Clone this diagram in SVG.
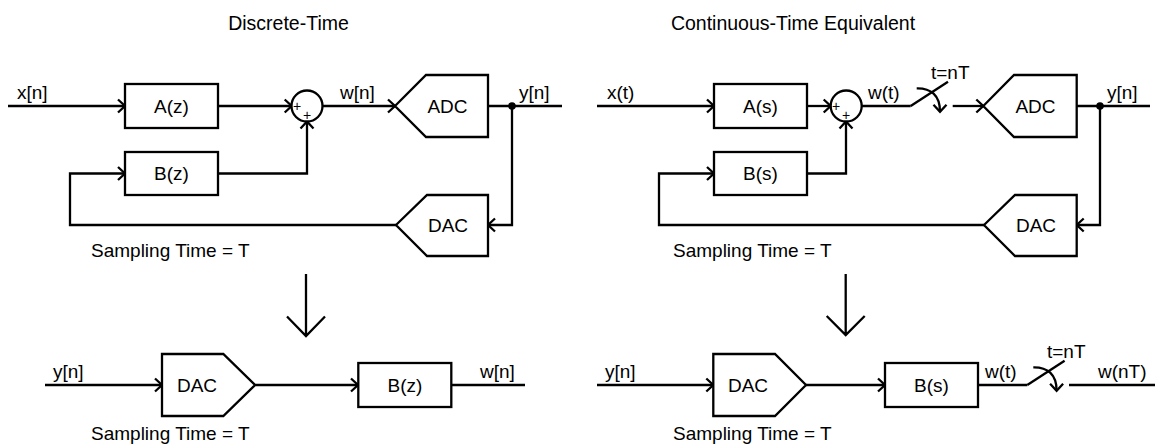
<svg xmlns="http://www.w3.org/2000/svg" width="1156" height="447" viewBox="0 0 1156 447">
<style>
.ln{fill:none;stroke:#000;stroke-width:2.3;stroke-linejoin:miter}
.bx{fill:#fff;stroke:#000;stroke-width:2.3}
.t{font-family:"Liberation Sans",Arial,sans-serif;font-size:19px;fill:#000}
.tt{font-family:"Liberation Sans",Arial,sans-serif;font-size:19.5px;fill:#000;text-anchor:middle}
.c{text-anchor:middle}
.p{font-family:"Liberation Sans",Arial,sans-serif;font-size:14px;fill:#000;text-anchor:middle}
</style>
<defs>
<marker id="arr" markerUnits="userSpaceOnUse" markerWidth="20" markerHeight="20" viewBox="-10 -10 20 20" refX="0" refY="0" orient="auto" overflow="visible">
<path d="M-7,-6.5 L0,0 L-7,6.5" fill="none" stroke="#000" stroke-width="2.3"/>
</marker>
<g id="sw">
<path class="ln" d="M0,0 L37.3,-24.3"/>
<path class="ln" d="M6,-17.7 C20,-18 29.3,-11 29.3,5.7" marker-end="url(#arr)"/>
</g>
</defs>

<text class="tt" x="288.5" y="30">Discrete-Time</text>
<text class="tt" x="793" y="30">Continuous-Time Equivalent</text>

<g id="connectors">
<path class="ln" d="M8,106 H125" marker-end="url(#arr)"/>
<path class="ln" d="M218,106 H291.7" marker-end="url(#arr)"/>
<path class="ln" d="M218,173.5 H307 V121.5" marker-end="url(#arr)"/>
<path class="ln" d="M322.5,106 H395" marker-end="url(#arr)"/>
<path class="ln" d="M488,106 H562"/>
<path class="ln" d="M512,106 V225 H488" marker-end="url(#arr)"/>
<path class="ln" d="M396,225 H70 V173.5 H125" marker-end="url(#arr)"/>
<path class="ln" d="M306,274 V336 M287,316.5 L306,336 L325,316.5"/>
<path class="ln" d="M45,385 H162" marker-end="url(#arr)"/>
<path class="ln" d="M255,385 H358" marker-end="url(#arr)"/>
<path class="ln" d="M451,385 H525"/>
<path class="ln" d="M597,106 H714" marker-end="url(#arr)"/>
<path class="ln" d="M807,106 H830.7" marker-end="url(#arr)"/>
<path class="ln" d="M807,173.5 H846 V121.5" marker-end="url(#arr)"/>
<path class="ln" d="M861.7,106 H910.7"/>
<use href="#sw" x="910.7" y="106"/>
<path class="ln" d="M952.7,106 H983.3" marker-end="url(#arr)"/>
<path class="ln" d="M1076.7,106 H1150"/>
<path class="ln" d="M1100,106 V225 H1076.7" marker-end="url(#arr)"/>
<path class="ln" d="M984,225 H659 V173.5 H714" marker-end="url(#arr)"/>
<path class="ln" d="M845.7,274 V335 M826.7,316 L845.7,335 L864.7,316"/>
<path class="ln" d="M597,385 H713.3" marker-end="url(#arr)"/>
<path class="ln" d="M806,385 H885" marker-end="url(#arr)"/>
<path class="ln" d="M978,385 H1027.3"/>
<use href="#sw" x="1027.3" y="385"/>
<path class="ln" d="M1069,385 H1155"/>
<circle cx="512" cy="106" r="3.8" fill="#000"/>
<circle cx="1100" cy="106" r="3.8" fill="#000"/>
</g>

<g id="Az"><rect class="bx" x="125" y="84" width="93" height="44"/><text class="t c" x="171.5" y="112.8">A(z)</text></g>
<g id="Bz"><rect class="bx" x="125" y="152" width="93" height="43"/><text class="t c" x="171.5" y="180.3">B(z)</text></g>
<g id="sumL"><circle class="bx" cx="307" cy="106" r="15.5"/><text class="p" x="297" y="111">+</text><text class="p" x="307" y="120">+</text></g>
<g id="adcL"><polygon class="bx" points="395,106 426,75 488,75 488,137 426,137"/><text class="t c" x="447.5" y="112.8">ADC</text></g>
<g id="dacL"><polygon class="bx" points="396,225 427,195 488,195 488,256 427,256"/><text class="t c" x="448" y="231.8">DAC</text></g>
<g id="labelsL">
<text class="t" x="17" y="99">x[n]</text>
<text class="t" x="340" y="99">w[n]</text>
<text class="t" x="519" y="99">y[n]</text>
<text class="t" x="91" y="257">Sampling Time = T</text>
</g>
<g id="dacLB"><polygon class="bx" points="162,354 223.3,354 255,385 223.3,416 162,416"/><text class="t c" x="197" y="391.8">DAC</text></g>
<g id="BzB"><rect class="bx" x="358.3" y="363" width="93" height="44"/><text class="t c" x="405" y="391.8">B(z)</text></g>
<g id="labelsLB">
<text class="t" x="53" y="378">y[n]</text>
<text class="t" x="480" y="378">w[n]</text>
<text class="t" x="91" y="440">Sampling Time = T</text>
</g>

<g id="As"><rect class="bx" x="714" y="84" width="93" height="44"/><text class="t c" x="760.5" y="112.8">A(s)</text></g>
<g id="Bs"><rect class="bx" x="714" y="152" width="93" height="43"/><text class="t c" x="760.5" y="180.3">B(s)</text></g>
<g id="sumR"><circle class="bx" cx="846.2" cy="106" r="15.5"/><text class="p" x="836" y="111">+</text><text class="p" x="846" y="120">+</text></g>
<g id="adcR"><polygon class="bx" points="983.3,106 1014,75 1076.7,75 1076.7,137 1014,137"/><text class="t c" x="1035.5" y="112.8">ADC</text></g>
<g id="dacR"><polygon class="bx" points="984,225 1015,195 1076.7,195 1076.7,256 1015,256"/><text class="t c" x="1036" y="231.8">DAC</text></g>
<g id="labelsR">
<text class="t" x="607" y="99">x(t)</text>
<text class="t" x="868" y="99">w(t)</text>
<text class="t" x="931" y="79.3">t=nT</text>
<text class="t" x="1107" y="99">y[n]</text>
<text class="t" x="673" y="257">Sampling Time = T</text>
</g>
<g id="dacRB"><polygon class="bx" points="713.3,354 775,354 806,385 775,416 713.3,416"/><text class="t c" x="748" y="391.8">DAC</text></g>
<g id="BsB"><rect class="bx" x="885" y="363" width="93" height="44"/><text class="t c" x="931.5" y="391.8">B(s)</text></g>
<g id="labelsRB">
<text class="t" x="605" y="378">y[n]</text>
<text class="t" x="985" y="378">w(t)</text>
<text class="t" x="1047" y="358">t=nT</text>
<text class="t" x="1098" y="378">w(nT)</text>
<text class="t" x="673" y="440">Sampling Time = T</text>
</g>
</svg>
